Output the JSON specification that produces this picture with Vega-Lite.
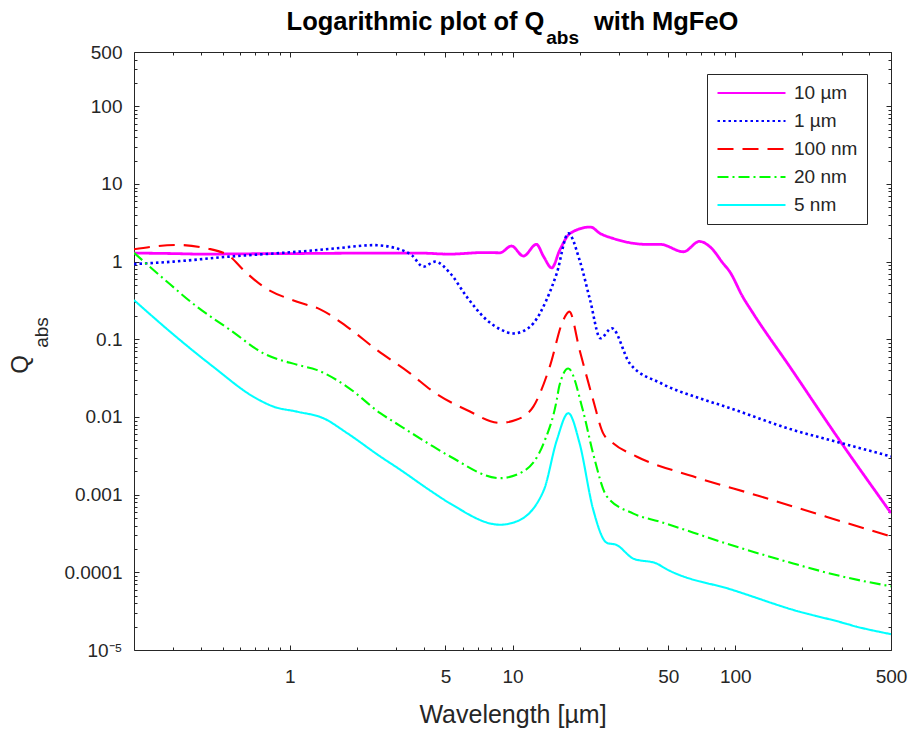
{
  "$schema": "https://vega.github.io/schema/vega-lite/v6.json",
  "width": 757,
  "height": 598,
  "autosize": {"type": "none"},
  "padding": {"left": 134, "top": 52, "right": 20, "bottom": 79},
  "background": "white",
  "title": {
    "text": "Logarithmic plot of Q\u00a0\u00a0\u00a0\u00a0\u00a0\u00a0\u00a0with MgFeO",
    "subtitle": "\u200b\u00a0\u00a0\u00a0\u00a0\u00a0\u00a0\u00a0\u00a0\u00a0\u00a0\u00a0\u00a0\u00a0\u00a0\u00a0\u00a0\u00a0\u00a0\u00a0abs",
    "anchor": "middle",
    "frame": "group",
    "font": "Liberation Sans",
    "fontSize": 25.5,
    "fontWeight": "bold",
    "color": "black",
    "subtitleFont": "Liberation Sans",
    "subtitleFontSize": 19,
    "subtitleFontWeight": "bold",
    "subtitleColor": "black",
    "subtitlePadding": -6,
    "offset": -5
  },
  "data": {
    "values": [
      {"series": "10 µm", "wavelength": 0.2, "qabs": 1.29},
      {"series": "10 µm", "wavelength": 0.3, "qabs": 1.27},
      {"series": "10 µm", "wavelength": 0.4, "qabs": 1.25},
      {"series": "10 µm", "wavelength": 0.6, "qabs": 1.26},
      {"series": "10 µm", "wavelength": 1.0, "qabs": 1.27},
      {"series": "10 µm", "wavelength": 1.5, "qabs": 1.28},
      {"series": "10 µm", "wavelength": 2.5, "qabs": 1.29},
      {"series": "10 µm", "wavelength": 3.8, "qabs": 1.29},
      {"series": "10 µm", "wavelength": 5.2, "qabs": 1.25},
      {"series": "10 µm", "wavelength": 7.5, "qabs": 1.31},
      {"series": "10 µm", "wavelength": 8.79, "qabs": 1.30},
      {"series": "10 µm", "wavelength": 9.89, "qabs": 1.59},
      {"series": "10 µm", "wavelength": 11.2, "qabs": 1.18},
      {"series": "10 µm", "wavelength": 12.8, "qabs": 1.67},
      {"series": "10 µm", "wavelength": 13.8, "qabs": 1.16},
      {"series": "10 µm", "wavelength": 15.0, "qabs": 0.83},
      {"series": "10 µm", "wavelength": 16.3, "qabs": 1.41},
      {"series": "10 µm", "wavelength": 18.2, "qabs": 2.33},
      {"series": "10 µm", "wavelength": 22.4, "qabs": 2.79},
      {"series": "10 µm", "wavelength": 24.7, "qabs": 2.31},
      {"series": "10 µm", "wavelength": 28.3, "qabs": 1.99},
      {"series": "10 µm", "wavelength": 40.0, "qabs": 1.67},
      {"series": "10 µm", "wavelength": 46.0, "qabs": 1.67},
      {"series": "10 µm", "wavelength": 58.6, "qabs": 1.34},
      {"series": "10 µm", "wavelength": 69.0, "qabs": 1.82},
      {"series": "10 µm", "wavelength": 78.0, "qabs": 1.5},
      {"series": "10 µm", "wavelength": 87.9, "qabs": 0.96},
      {"series": "10 µm", "wavelength": 94.5, "qabs": 0.74},
      {"series": "10 µm", "wavelength": 108, "qabs": 0.353},
      {"series": "10 µm", "wavelength": 120, "qabs": 0.218},
      {"series": "10 µm", "wavelength": 176, "qabs": 0.044},
      {"series": "10 µm", "wavelength": 294, "qabs": 0.005},
      {"series": "10 µm", "wavelength": 500, "qabs": 0.00058},

      {"series": "1 µm", "wavelength": 0.2, "qabs": 0.93},
      {"series": "1 µm", "wavelength": 0.3, "qabs": 1.0},
      {"series": "1 µm", "wavelength": 0.535, "qabs": 1.16},
      {"series": "1 µm", "wavelength": 1.08, "qabs": 1.34},
      {"series": "1 µm", "wavelength": 1.6, "qabs": 1.48},
      {"series": "1 µm", "wavelength": 2.38, "qabs": 1.63},
      {"series": "1 µm", "wavelength": 3.02, "qabs": 1.48},
      {"series": "1 µm", "wavelength": 3.54, "qabs": 1.2},
      {"series": "1 µm", "wavelength": 3.98, "qabs": 0.86},
      {"series": "1 µm", "wavelength": 4.49, "qabs": 1.0},
      {"series": "1 µm", "wavelength": 5.25, "qabs": 0.71},
      {"series": "1 µm", "wavelength": 6.23, "qabs": 0.353},
      {"series": "1 µm", "wavelength": 7.67, "qabs": 0.177},
      {"series": "1 µm", "wavelength": 8.8, "qabs": 0.135},
      {"series": "1 µm", "wavelength": 10.1, "qabs": 0.119},
      {"series": "1 µm", "wavelength": 11.2, "qabs": 0.128},
      {"series": "1 µm", "wavelength": 12.4, "qabs": 0.16},
      {"series": "1 µm", "wavelength": 14.2, "qabs": 0.32},
      {"series": "1 µm", "wavelength": 15.8, "qabs": 0.707},
      {"series": "1 µm", "wavelength": 17.8, "qabs": 2.31},
      {"series": "1 µm", "wavelength": 20.0, "qabs": 1.05},
      {"series": "1 µm", "wavelength": 22.3, "qabs": 0.32},
      {"series": "1 µm", "wavelength": 24.8, "qabs": 0.103},
      {"series": "1 µm", "wavelength": 27.9, "qabs": 0.139},
      {"series": "1 µm", "wavelength": 33.6, "qabs": 0.049},
      {"series": "1 µm", "wavelength": 46.6, "qabs": 0.027},
      {"series": "1 µm", "wavelength": 69.6, "qabs": 0.0173},
      {"series": "1 µm", "wavelength": 91, "qabs": 0.0135},
      {"series": "1 µm", "wavelength": 182, "qabs": 0.0068},
      {"series": "1 µm", "wavelength": 284, "qabs": 0.0048},
      {"series": "1 µm", "wavelength": 500, "qabs": 0.0031},

      {"series": "100 nm", "wavelength": 0.2, "qabs": 1.44},
      {"series": "100 nm", "wavelength": 0.31, "qabs": 1.64},
      {"series": "100 nm", "wavelength": 0.425, "qabs": 1.48},
      {"series": "100 nm", "wavelength": 0.54, "qabs": 1.16},
      {"series": "100 nm", "wavelength": 0.62, "qabs": 0.78},
      {"series": "100 nm", "wavelength": 0.763, "qabs": 0.475},
      {"series": "100 nm", "wavelength": 1.08, "qabs": 0.305},
      {"series": "100 nm", "wavelength": 1.37, "qabs": 0.243},
      {"series": "100 nm", "wavelength": 1.81, "qabs": 0.145},
      {"series": "100 nm", "wavelength": 2.46, "qabs": 0.073},
      {"series": "100 nm", "wavelength": 3.47, "qabs": 0.0365},
      {"series": "100 nm", "wavelength": 4.42, "qabs": 0.0211},
      {"series": "100 nm", "wavelength": 6.23, "qabs": 0.0123},
      {"series": "100 nm", "wavelength": 8.79, "qabs": 0.0084},
      {"series": "100 nm", "wavelength": 10.4, "qabs": 0.0092},
      {"series": "100 nm", "wavelength": 12.4, "qabs": 0.0136},
      {"series": "100 nm", "wavelength": 14.7, "qabs": 0.0445},
      {"series": "100 nm", "wavelength": 16.9, "qabs": 0.177},
      {"series": "100 nm", "wavelength": 18.0, "qabs": 0.227},
      {"series": "100 nm", "wavelength": 20.0, "qabs": 0.073},
      {"series": "100 nm", "wavelength": 23.0, "qabs": 0.0167},
      {"series": "100 nm", "wavelength": 25.5, "qabs": 0.0062},
      {"series": "100 nm", "wavelength": 28.3, "qabs": 0.0046},
      {"series": "100 nm", "wavelength": 36, "qabs": 0.0031},
      {"series": "100 nm", "wavelength": 64.5, "qabs": 0.00172},
      {"series": "100 nm", "wavelength": 128, "qabs": 0.00096},
      {"series": "100 nm", "wavelength": 256, "qabs": 0.00052},
      {"series": "100 nm", "wavelength": 500, "qabs": 0.00029},

      {"series": "20 nm", "wavelength": 0.2, "qabs": 1.3},
      {"series": "20 nm", "wavelength": 0.272, "qabs": 0.6},
      {"series": "20 nm", "wavelength": 0.383, "qabs": 0.263},
      {"series": "20 nm", "wavelength": 0.54, "qabs": 0.132},
      {"series": "20 nm", "wavelength": 0.763, "qabs": 0.066},
      {"series": "20 nm", "wavelength": 1.08, "qabs": 0.047},
      {"series": "20 nm", "wavelength": 1.32, "qabs": 0.0404},
      {"series": "20 nm", "wavelength": 1.81, "qabs": 0.0245},
      {"series": "20 nm", "wavelength": 2.55, "qabs": 0.0112},
      {"series": "20 nm", "wavelength": 3.13, "qabs": 0.0077},
      {"series": "20 nm", "wavelength": 4.27, "qabs": 0.0044},
      {"series": "20 nm", "wavelength": 5.25, "qabs": 0.0031},
      {"series": "20 nm", "wavelength": 8.79, "qabs": 0.00163},
      {"series": "20 nm", "wavelength": 11.2, "qabs": 0.002},
      {"series": "20 nm", "wavelength": 13.8, "qabs": 0.0046},
      {"series": "20 nm", "wavelength": 15.8, "qabs": 0.0166},
      {"series": "20 nm", "wavelength": 16.2, "qabs": 0.0247},
      {"series": "20 nm", "wavelength": 17.8, "qabs": 0.042},
      {"series": "20 nm", "wavelength": 20.7, "qabs": 0.0122},
      {"series": "20 nm", "wavelength": 23.0, "qabs": 0.0034},
      {"series": "20 nm", "wavelength": 26.5, "qabs": 0.00095},
      {"series": "20 nm", "wavelength": 34.9, "qabs": 0.00057},
      {"series": "20 nm", "wavelength": 45.7, "qabs": 0.00045},
      {"series": "20 nm", "wavelength": 91.3, "qabs": 0.000235},
      {"series": "20 nm", "wavelength": 182, "qabs": 0.00013},
      {"series": "20 nm", "wavelength": 304, "qabs": 0.000088},
      {"series": "20 nm", "wavelength": 500, "qabs": 0.000066},

      {"series": "5 nm", "wavelength": 0.2, "qabs": 0.32},
      {"series": "5 nm", "wavelength": 0.302, "qabs": 0.114},
      {"series": "5 nm", "wavelength": 0.455, "qabs": 0.044},
      {"series": "5 nm", "wavelength": 0.688, "qabs": 0.0182},
      {"series": "5 nm", "wavelength": 0.846, "qabs": 0.0136},
      {"series": "5 nm", "wavelength": 1.08, "qabs": 0.0117},
      {"series": "5 nm", "wavelength": 1.42, "qabs": 0.0096},
      {"series": "5 nm", "wavelength": 1.81, "qabs": 0.0062},
      {"series": "5 nm", "wavelength": 2.55, "qabs": 0.0031},
      {"series": "5 nm", "wavelength": 3.13, "qabs": 0.0021},
      {"series": "5 nm", "wavelength": 4.27, "qabs": 0.00113},
      {"series": "5 nm", "wavelength": 5.25, "qabs": 0.00077},
      {"series": "5 nm", "wavelength": 8.79, "qabs": 0.00041},
      {"series": "5 nm", "wavelength": 10.4, "qabs": 0.00045},
      {"series": "5 nm", "wavelength": 13.8, "qabs": 0.00113},
      {"series": "5 nm", "wavelength": 15.8, "qabs": 0.005},
      {"series": "5 nm", "wavelength": 17.8, "qabs": 0.0112},
      {"series": "5 nm", "wavelength": 20.0, "qabs": 0.0046},
      {"series": "5 nm", "wavelength": 23.0, "qabs": 0.00065},
      {"series": "5 nm", "wavelength": 26.5, "qabs": 0.00024},
      {"series": "5 nm", "wavelength": 29.3, "qabs": 0.000225},
      {"series": "5 nm", "wavelength": 34.9, "qabs": 0.00015},
      {"series": "5 nm", "wavelength": 44.3, "qabs": 0.00013},
      {"series": "5 nm", "wavelength": 49.1, "qabs": 0.00011},
      {"series": "5 nm", "wavelength": 97.9, "qabs": 0.000059},
      {"series": "5 nm", "wavelength": 195, "qabs": 0.000031},
      {"series": "5 nm", "wavelength": 294, "qabs": 0.000023},
      {"series": "5 nm", "wavelength": 350, "qabs": 0.00002},
      {"series": "5 nm", "wavelength": 500, "qabs": 0.000016}
    ]
  },
  "resolve": {"axis": {"x": "independent", "y": "independent"}},
  "layer": [
    {
      "mark": {"type": "line", "clip": true, "strokeCap": "butt", "strokeJoin": "round", "interpolate": "monotone"},
      "encoding": {
        "x": {
          "field": "wavelength", "type": "quantitative",
          "scale": {"type": "log", "domain": [0.2, 500], "nice": false},
          "axis": {
            "orient": "bottom", "values": [1, 5, 10, 50, 100, 500],
            "ticks": false, "domain": false, "grid": false,
            "labelFontSize": 19, "labelPadding": 17, "labelOverlap": false, "labelFlush": false,
            "labelExpr": "toString(datum.value)",
            "title": "Wavelength [µm]", "titleFontSize": 25, "titleFontWeight": "normal",
            "titleY": 72, "titleBaseline": "alphabetic"
          }
        },
        "y": {
          "field": "qabs", "type": "quantitative",
          "scale": {"type": "log", "domain": [0.00001, 500], "nice": false},
          "axis": {
            "orient": "left",
            "values": [0.00001, 0.0001, 0.001, 0.01, 0.1, 1, 10, 100, 500],
            "ticks": false, "domain": false, "grid": false,
            "labelFontSize": 19, "labelPadding": 12, "labelOverlap": false, "labelFlush": false,
            "labelExpr": "datum.value < 0.00005 ? '10⁻⁵' : toString(datum.value)",
            "title": "Q", "titleFontSize": 24, "titleFontWeight": "normal",
            "titleAngle": -90, "titleX": -107, "titleY": 312,
            "titleBaseline": "alphabetic", "titleAlign": "center"
          }
        },
        "color": {
          "field": "series", "type": "nominal",
          "scale": {
            "domain": ["10 µm", "1 µm", "100 nm", "20 nm", "5 nm"],
            "range": ["#FF00FF", "#0000FF", "#FF0000", "#00FF00", "#00FFFF"]
          },
          "legend": {
            "title": null, "orient": "none", "legendX": 573, "legendY": 22,
            "symbolType": "stroke", "symbolSize": 4624, "symbolStrokeWidth": 2.2,
            "labelFontSize": 19, "labelColor": "#262626", "labelFont": "Liberation Sans",
            "labelOffset": 7, "padding": 9, "rowPadding": 8, "clipHeight": 20,
            "strokeColor": "#262626", "fillColor": "white", "cornerRadius": 0, "labelLimit": 300
          }
        },
        "strokeDash": {
          "field": "series", "type": "nominal",
          "scale": {
            "domain": ["10 µm", "1 µm", "100 nm", "20 nm", "5 nm"],
            "range": [[1, 0], [2.5, 3], [16, 9], [11, 4, 2, 4], [1, 0]]
          }
        },
        "strokeWidth": {
          "condition": [
            {"test": "datum.series === '10 µm'", "value": 2.8},
            {"test": "datum.series === '1 µm'", "value": 2.6}
          ],
          "value": 2.1
        }
      }
    },
    {
      "mark": {"type": "point", "opacity": 0},
      "encoding": {
        "x": {
          "field": "wavelength", "type": "quantitative",
          "scale": {"type": "log", "domain": [0.2, 500], "nice": false},
          "axis": {
            "orient": "bottom", "values": [1, 5, 10, 50, 100, 500],
            "offset": -5, "tickSize": 5, "labels": false, "domain": false, "grid": false, "title": null
          }
        },
        "y": {
          "field": "qabs", "type": "quantitative",
          "scale": {"type": "log", "domain": [0.00001, 500], "nice": false},
          "axis": {
            "orient": "left",
            "values": [0.00001, 0.0001, 0.001, 0.01, 0.1, 1, 10, 100, 500],
            "offset": -5, "tickSize": 5, "labels": false, "domain": false, "grid": false,
            "title": "abs", "titleFontSize": 19, "titleFontWeight": "normal",
            "titleAngle": -90, "titleX": -92, "titleY": 280,
            "titleBaseline": "alphabetic", "titleAlign": "center"
          }
        }
      }
    },
    {
      "mark": {"type": "point", "opacity": 0},
      "encoding": {
        "x": {
          "field": "wavelength", "type": "quantitative",
          "scale": {"type": "log", "domain": [0.2, 500], "nice": false},
          "axis": {
            "orient": "bottom",
            "values": [0.3, 0.4, 0.5, 0.6, 0.7, 0.8, 0.9, 2, 3, 4, 6, 7, 8, 9, 20, 30, 40, 60, 70, 80, 90, 200, 300, 400],
            "offset": -3, "tickSize": 3, "labels": false, "domain": false, "grid": false, "title": null
          }
        },
        "y": {
          "field": "qabs", "type": "quantitative",
          "scale": {"type": "log", "domain": [0.00001, 500], "nice": false},
          "axis": {
            "orient": "left",
            "values": [0.00002, 0.00003, 0.00004, 0.00005, 0.00006, 0.00007, 0.00008, 0.00009,
                       0.0002, 0.0003, 0.0004, 0.0005, 0.0006, 0.0007, 0.0008, 0.0009,
                       0.002, 0.003, 0.004, 0.005, 0.006, 0.007, 0.008, 0.009,
                       0.02, 0.03, 0.04, 0.05, 0.06, 0.07, 0.08, 0.09,
                       0.2, 0.3, 0.4, 0.5, 0.6, 0.7, 0.8, 0.9,
                       2, 3, 4, 5, 6, 7, 8, 9,
                       20, 30, 40, 50, 60, 70, 80, 90,
                       200, 300, 400],
            "offset": -3, "tickSize": 3, "labels": false, "domain": false, "grid": false, "title": null
          }
        }
      }
    },
    {
      "mark": {"type": "point", "opacity": 0},
      "encoding": {
        "x": {
          "field": "wavelength", "type": "quantitative",
          "scale": {"type": "log", "domain": [0.2, 500], "nice": false},
          "axis": {
            "orient": "top", "values": [1, 5, 10, 50, 100, 500],
            "offset": -5, "tickSize": 5, "labels": false, "domain": false, "grid": false, "title": null
          }
        },
        "y": {
          "field": "qabs", "type": "quantitative",
          "scale": {"type": "log", "domain": [0.00001, 500], "nice": false},
          "axis": {
            "orient": "right",
            "values": [0.00001, 0.0001, 0.001, 0.01, 0.1, 1, 10, 100, 500],
            "offset": -5, "tickSize": 5, "labels": false, "domain": false, "grid": false, "title": null
          }
        }
      }
    },
    {
      "mark": {"type": "point", "opacity": 0},
      "encoding": {
        "x": {
          "field": "wavelength", "type": "quantitative",
          "scale": {"type": "log", "domain": [0.2, 500], "nice": false},
          "axis": {
            "orient": "top",
            "values": [0.3, 0.4, 0.5, 0.6, 0.7, 0.8, 0.9, 2, 3, 4, 6, 7, 8, 9, 20, 30, 40, 60, 70, 80, 90, 200, 300, 400],
            "offset": -3, "tickSize": 3, "labels": false, "domain": false, "grid": false, "title": null
          }
        },
        "y": {
          "field": "qabs", "type": "quantitative",
          "scale": {"type": "log", "domain": [0.00001, 500], "nice": false},
          "axis": {
            "orient": "right",
            "values": [0.00002, 0.00003, 0.00004, 0.00005, 0.00006, 0.00007, 0.00008, 0.00009,
                       0.0002, 0.0003, 0.0004, 0.0005, 0.0006, 0.0007, 0.0008, 0.0009,
                       0.002, 0.003, 0.004, 0.005, 0.006, 0.007, 0.008, 0.009,
                       0.02, 0.03, 0.04, 0.05, 0.06, 0.07, 0.08, 0.09,
                       0.2, 0.3, 0.4, 0.5, 0.6, 0.7, 0.8, 0.9,
                       2, 3, 4, 5, 6, 7, 8, 9,
                       20, 30, 40, 50, 60, 70, 80, 90,
                       200, 300, 400],
            "offset": -3, "tickSize": 3, "labels": false, "domain": false, "grid": false, "title": null
          }
        }
      }
    }
  ],
  "config": {
    "font": "Liberation Sans",
    "view": {"stroke": "#262626", "strokeWidth": 1},
    "axis": {
      "labelFont": "Liberation Sans", "titleFont": "Liberation Sans",
      "labelColor": "#262626", "titleColor": "#262626",
      "tickColor": "#262626", "tickWidth": 1, "grid": false
    }
  }
}
